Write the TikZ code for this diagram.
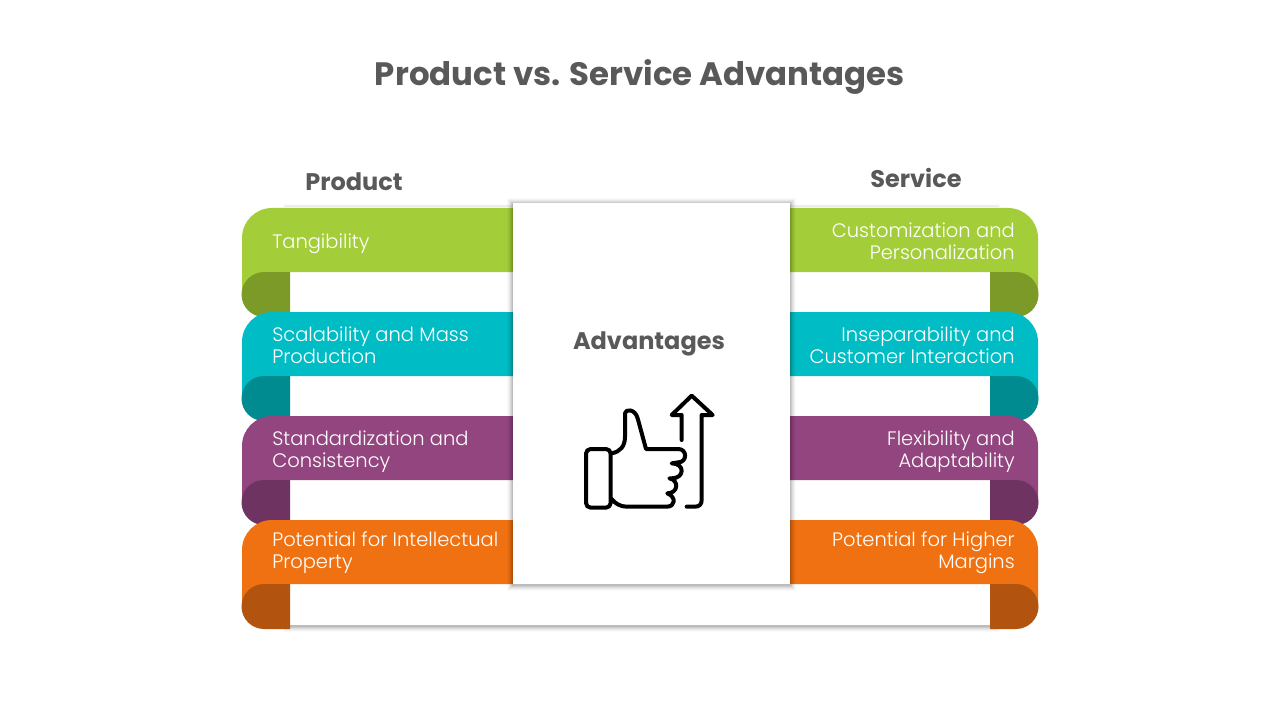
\documentclass[tikz,border=0pt]{standalone}
\usepackage{fontspec}
\setmainfont{Poppins}
\newfontfamily\lightfont{Poppins Light}
\definecolor{inkgrey}{HTML}{595959}
\definecolor{gA}{HTML}{A4CE39}\definecolor{gB}{HTML}{7C9A27}
\definecolor{tA}{HTML}{00BCC4}\definecolor{tB}{HTML}{008B90}
\definecolor{pA}{HTML}{934580}\definecolor{pB}{HTML}{6E3360}
\definecolor{oA}{HTML}{F07111}\definecolor{oB}{HTML}{B35310}
\tikzset{
  heading/.style={font=\bfseries\fontsize{18}{22}\selectfont,text=inkgrey,inner sep=0pt},
  lefttext/.style={anchor=west,align=left,text=white,inner sep=0pt,font=\lightfont\fontsize{14.6}{16.5}\selectfont},
  righttext/.style={anchor=east,align=right,text=white,inner sep=0pt,font=\lightfont\fontsize{14.6}{16.5}\selectfont},
  icon/.style={draw=black,line width=3pt,line cap=round,line join=round,fill=none}
}
% #1 top y, #2 light colour, #3 dark colour
\newcommand{\ribbonpair}[3]{%
  \fill[#2] (513,#1) -- (272,#1) arc[start angle=270,end angle=180,radius=30] -- ++(0,56) -- ++(40,0) -- ++(0,-22) -- (513,#1+64) -- cycle;
  \fill[#3] (290,#1+64) -- (264,#1+64) arc[start angle=270,end angle=90,radius=22.5] -- (290,#1+109) -- cycle;
  \fill[#2] (790,#1) -- (1008,#1) arc[start angle=270,end angle=360,radius=30] -- ++(0,56) -- ++(-40,0) -- ++(0,-22) -- (790,#1+64) -- cycle;
  \fill[#3] (990,#1+64) -- (1016,#1+64) arc[start angle=270,end angle=450,radius=22.5] -- (990,#1+109) -- cycle;
}
\newcommand{\softshadow}[4]{% x0 y0 x1 y1
  \foreach \d/\o in {6/0.02,5/0.03,4/0.04,3/0.05,2/0.07,1/0.08}{
    \fill[black,opacity=\o] (#1-\d,#2-\d+1) rectangle (#3+\d,#4+\d+1);
  }
}
\begin{document}
\begin{tikzpicture}[x=0.75pt,y=-0.75pt]
\useasboundingbox (0,0) rectangle (1280,720);
\fill[white] (0,0) rectangle (1280,720);
\node[heading,font=\bfseries\fontsize{24.3}{28}\selectfont] (title) at (640,77) {Product vs. Service Advantages};
\node[heading] (product) at (354,182) {Product};
\node[heading] (service) at (916,178) {Service};
% back sheet
\softshadow{289}{209}{994}{625}
\fill[white] (283,207) rectangle (1000,625);
% ribbons, top to bottom
\ribbonpair{208}{gA}{gB}
\ribbonpair{312}{tA}{tB}
\ribbonpair{416}{pA}{pB}
\ribbonpair{520}{oA}{oB}
% central card
\softshadow{513}{203}{790}{584}
\node[fill=white,minimum width=207.75pt,minimum height=285.75pt,inner sep=0pt,anchor=north west] (card) at (513,203) {};
\node[heading] (adv) at (649,344) {Advantages};
% labels
\node[lefttext] (l1) at (272,244) {Tangibility};
\node[lefttext] (l2) at (272,345) {Scalability and Mass\\Production};
\node[lefttext] (l3) at (272,452) {Standardization and\\Consistency};
\node[lefttext] (l4) at (272,553) {Potential for Intellectual\\Property};
\node[righttext] (r1) at (1015,241) {Customization and\\Personalization};
\node[righttext] (r2) at (1015,345) {Inseparability and\\Customer Interaction};
\node[righttext] (r3) at (1015,452) {Flexibility and\\Adaptability};
\node[righttext] (r4) at (1015,553) {Potential for Higher\\Margins};
% icon
\begin{scope}[shift={(570,385)},x=0.25pt,y=-0.25pt]
  \draw[icon,rounded corners=3.5pt] (48,192) rectangle (122,368);
  \draw[icon] (125,205) .. controls (150,200) and (165,185) .. (165,155) -- (165,85)
    .. controls (165,72) and (195,70) .. (203,100) -- (228,192) -- (325,192)
    .. controls (352,192) and (352,232) .. (325,232) -- (305,235)
    .. controls (345,235) and (345,280) .. (305,280) -- (298,280)
    .. controls (328,285) and (325,325) .. (292,325)
    .. controls (318,335) and (318,365) .. (290,365) -- (170,365)
    .. controls (150,365) and (135,355) .. (125,342);
  \draw[icon] (335,165) -- (335,90) -- (305,90) -- (365,32) -- (428,90) -- (395,90) -- (395,345)
    .. controls (395,358) and (388,365) .. (375,365) -- (350,365);
\end{scope}
\end{tikzpicture}
\end{document}
